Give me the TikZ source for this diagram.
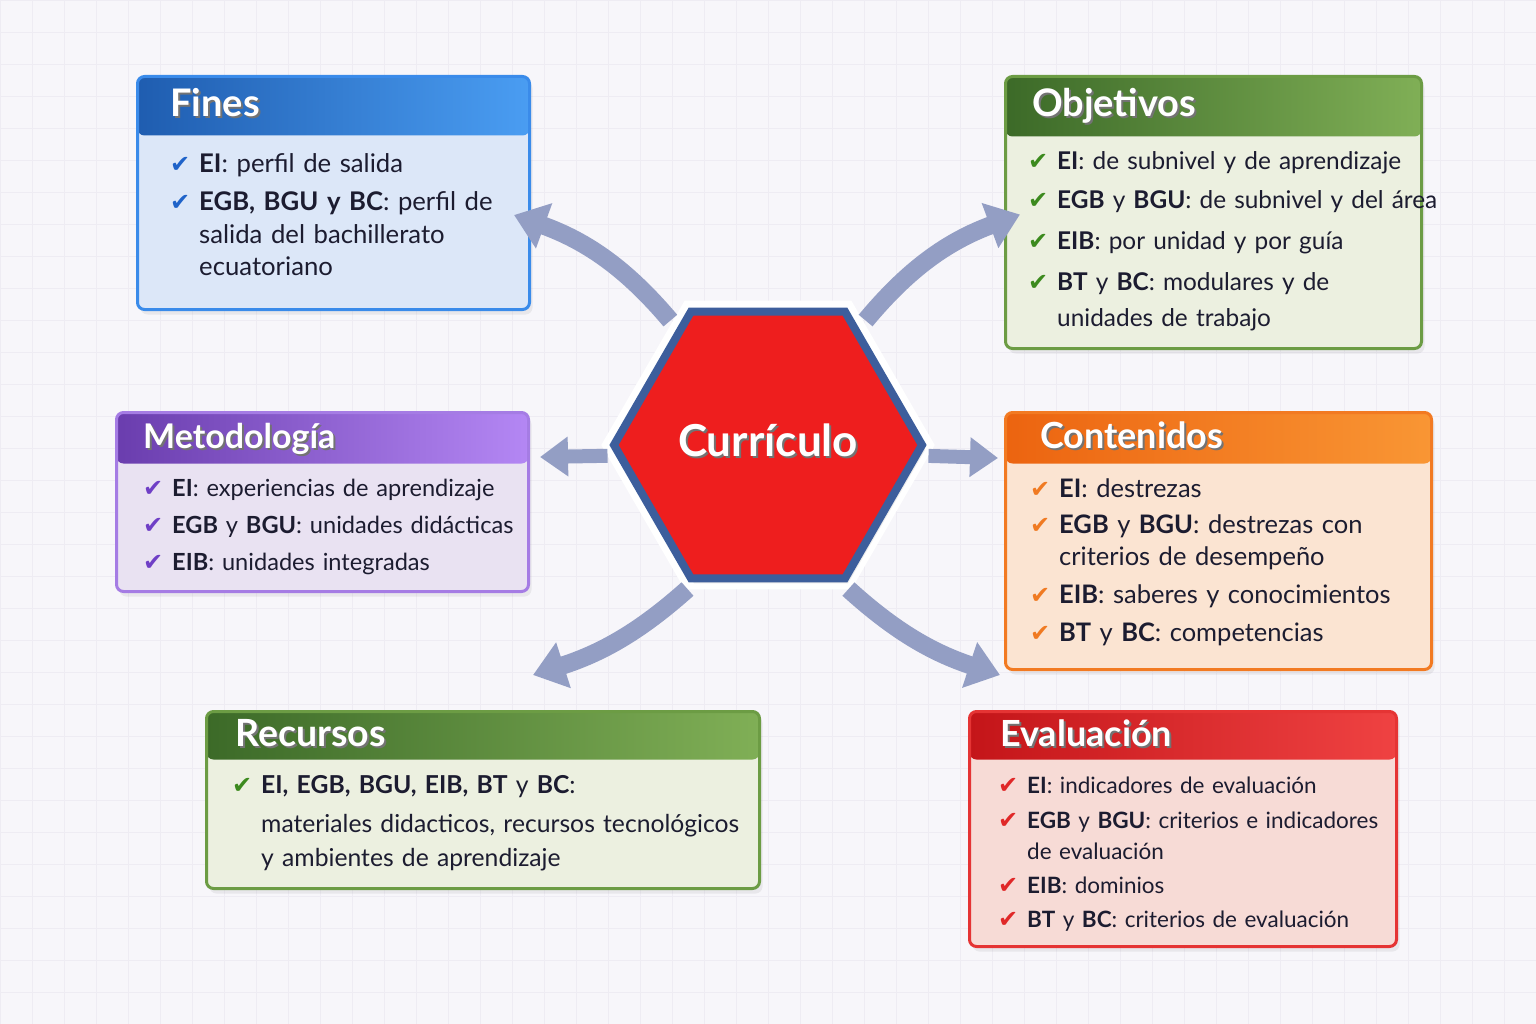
\documentclass[tikz,border=0pt]{standalone}
\usepackage{fontspec}
\setmainfont{Lato}
\newfontfamily\ckfont{DejaVu Sans}
\usetikzlibrary{arrows.meta,positioning,shapes.geometric,shadows,calc}
\definecolor{bgcol}{HTML}{F7F6FA}
\definecolor{gridcol}{HTML}{EEECF3}
\definecolor{ink}{HTML}{1C1C30}
\definecolor{arrowcol}{HTML}{939EC4}
\definecolor{hexred}{HTML}{EE1E1E}
\definecolor{hexblue}{HTML}{3D5E9C}
\definecolor{blueA}{HTML}{1F5DB0}
\definecolor{blueB}{HTML}{4A9DF2}
\definecolor{blueBd}{HTML}{3A8BEA}
\definecolor{blueBg}{HTML}{DCE7F8}
\definecolor{blueCk}{HTML}{1F63C9}
\definecolor{greenA}{HTML}{3C6A28}
\definecolor{greenB}{HTML}{80AF56}
\definecolor{greenBd}{HTML}{6C9C44}
\definecolor{greenBg}{HTML}{ECF0E0}
\definecolor{greenCk}{HTML}{3C8A1E}
\definecolor{violetA}{HTML}{6A3DAE}
\definecolor{violetB}{HTML}{B487F4}
\definecolor{violetBd}{HTML}{A57CE4}
\definecolor{violetBg}{HTML}{E9E2F2}
\definecolor{violetCk}{HTML}{6F3FC6}
\definecolor{orangeA}{HTML}{EC6410}
\definecolor{orangeB}{HTML}{F99634}
\definecolor{orangeBd}{HTML}{F27A22}
\definecolor{orangeBg}{HTML}{FBE4D2}
\definecolor{orangeCk}{HTML}{F07A22}
\definecolor{redA}{HTML}{C41519}
\definecolor{redB}{HTML}{EF4242}
\definecolor{redBd}{HTML}{E53434}
\definecolor{redBg}{HTML}{F7DBD6}
\definecolor{redCk}{HTML}{E02828}
% check mark, hanging indent, shadowed title text
\newcommand{\ck}[1]{\makebox[29pt][l]{\textcolor{#1}{\ckfont\fontsize{24}{24}\selectfont ✔}}}
\newcommand{\hang}{\hspace*{29pt}}
\newcommand{\shtext}[1]{\makebox[0pt][l]{\hspace*{2pt}\raisebox{-2pt}{\textcolor{black!55}{#1}}}#1}

\begin{document}
\begin{tikzpicture}[x=1pt,y=-1pt,
    card/.style n args={3}{anchor=north west,rounded corners=7pt,line width=3pt,inner sep=0pt,
        drop shadow={opacity=0.12,shadow xshift=3pt,shadow yshift=-5pt},
        path picture={\shade[left color=#1,right color=#2] (path picture bounding box.north west) rectangle ([yshift=-#3 pt]path picture bounding box.north east);}},
    ttl/.style={anchor=base west,text=white,inner sep=0pt,font=\fontsize{#1}{#1}\selectfont\bfseries},
    items/.style={anchor=base west,text width=520pt,align=left,inner sep=0pt,text=ink},
    hexa/.style={regular polygon,regular polygon sides=6,minimum size=308pt,fill=hexred,draw=hexblue,line width=8pt,
        preaction={draw=white,line width=22pt},drop shadow={opacity=0.15,shadow xshift=3pt,shadow yshift=-5pt}},
    flow/.style={draw=arrowcol,line width=18pt,-{Triangle[length=32pt,width=46pt]},shorten <=10pt},
    sideflow/.style={draw=arrowcol,line width=14pt,-{Triangle[length=28pt,width=38pt]},shorten <=8pt}
]
\useasboundingbox (0,0) rectangle (1536,1024);
\fill[bgcol] (0,0) rectangle (1536,1024);
\foreach \g in {0,32,...,1536} \draw[gridcol,line width=0.6pt] (\g,0) -- (\g,1024);
\foreach \g in {0,32,...,1024} \draw[gridcol,line width=0.6pt] (0,\g) -- (1536,\g);

% boxes
\node[card={blueA}{blueB}{59},draw=blueBd,fill=blueBg,minimum width=392,minimum height=233] (fines) at (136,75) {};
\node[card={greenA}{greenB}{60},draw=greenBd,fill=greenBg,minimum width=416,minimum height=272] (obj) at (1004,75) {};
\node[card={violetA}{violetB}{51},draw=violetBd,fill=violetBg,minimum width=412,minimum height=179] (met) at (115,411) {};
\node[card={orangeA}{orangeB}{51},draw=orangeBd,fill=orangeBg,minimum width=426,minimum height=257] (cont) at (1004,411) {};
\node[card={greenA}{greenB}{48},draw=greenBd,fill=greenBg,minimum width=553,minimum height=177] (rec) at (205,710) {};
\node[card={redA}{redB}{48},draw=redBd,fill=redBg,minimum width=427,minimum height=235] (eva) at (968,710) {};

% titles
\node[ttl=38] (finesT) at ([shift={(34,42)}]fines.north west) {\shtext{Fines}};
\node[ttl=38] (objT) at ([shift={(28,42)}]obj.north west) {\shtext{Objetivos}};
\node[ttl=34] (metT) at ([shift={(28,37)}]met.north west) {\shtext{Metodología}};
\node[ttl=36] (contT) at ([shift={(36,37)}]cont.north west) {\shtext{Contenidos}};
\node[ttl=37.5] (recT) at ([shift={(30,36)}]rec.north west) {\shtext{Recursos}};
\node[ttl=36] (evaT) at ([shift={(32,36)}]eva.north west) {\shtext{Evaluación}};

% lists
\node[items,font=\fontsize{25.7}{32.5}\selectfont] (finesL) at ([shift={(34,98)}]fines.north west) {%
\ck{blueCk}\textbf{EI}: perfil de salida\\[5.5pt]
\ck{blueCk}\textbf{EGB, BGU y BC}: perfil de\\ \hang salida del bachillerato\\ \hang ecuatoriano};
\node[items,font=\fontsize{24.4}{36}\selectfont] (objL) at ([shift={(24,95)}]obj.north west) {%
\ck{greenCk}\textbf{EI}: de subnivel y de aprendizaje\\[3pt]
\ck{greenCk}\textbf{EGB} y \textbf{BGU}: de subnivel y del área\\[5pt]
\ck{greenCk}\textbf{EIB}: por unidad y por guía\\[5pt]
\ck{greenCk}\textbf{BT} y \textbf{BC}: modulares y de\\ \hang unidades de trabajo};
\node[items,font=\fontsize{23.6}{32}\selectfont] (metL) at ([shift={(28,85)}]met.north west) {%
\ck{violetCk}\textbf{EI}: experiencias de aprendizaje\\[5pt]
\ck{violetCk}\textbf{EGB} y \textbf{BGU}: unidades didácticas\\[5pt]
\ck{violetCk}\textbf{EIB}: unidades integradas};
\node[items,font=\fontsize{25.5}{32}\selectfont] (contL) at ([shift={(26,86)}]cont.north west) {%
\ck{orangeCk}\textbf{EI}: destrezas\\[4pt]
\ck{orangeCk}\textbf{EGB} y \textbf{BGU}: destrezas con\\ \hang criterios de desempeño\\[6pt]
\ck{orangeCk}\textbf{EIB}: saberes y conocimientos\\[6pt]
\ck{orangeCk}\textbf{BT} y \textbf{BC}: competencias};
\node[items,font=\fontsize{24.7}{34}\selectfont] (recL) at ([shift={(27,83)}]rec.north west) {%
\ck{greenCk}\textbf{EI, EGB, BGU, EIB, BT} y \textbf{BC}:\\[5pt]
\hang materiales didacticos, recursos tecnológicos\\ \hang y ambientes de aprendizaje};
\node[items,font=\fontsize{22.5}{31}\selectfont] (evaL) at ([shift={(30,83)}]eva.north west) {%
\ck{redCk}\textbf{EI}: indicadores de evaluación\\[4pt]
\ck{redCk}\textbf{EGB} y \textbf{BGU}: criterios e indicadores\\ \hang de evaluación\\[3pt]
\ck{redCk}\textbf{EIB}: dominios\\[3pt]
\ck{redCk}\textbf{BT} y \textbf{BC}: criterios de evaluación};

% centre
\node[hexa] (cur) at (768,445) {};
\node[text=white,inner sep=0pt,font=\fontsize{44}{44}\selectfont\bfseries] (curT) at ([shift={(0,-4)}]cur.center) {\shtext{Currículo}};

% arrows
\draw[flow] (cur.128) to[bend right=15] ([shift={(-17,22)}]fines.east);
\draw[flow] (cur.52) to[bend left=15] ([shift={(16,2)}]obj.west);
\draw[sideflow] (cur.184) -- ([shift={(10,46)}]met.north east);
\draw[sideflow] (cur.-4) -- ([shift={(-6,47)}]cont.north west);
\draw[flow] (cur.242) to[bend left=12] ([shift={(50,-35)}]rec.north);
\draw[flow] (cur.298) to[bend right=12] ([shift={(32,-35)}]eva.north west);
\end{tikzpicture}
\end{document}
